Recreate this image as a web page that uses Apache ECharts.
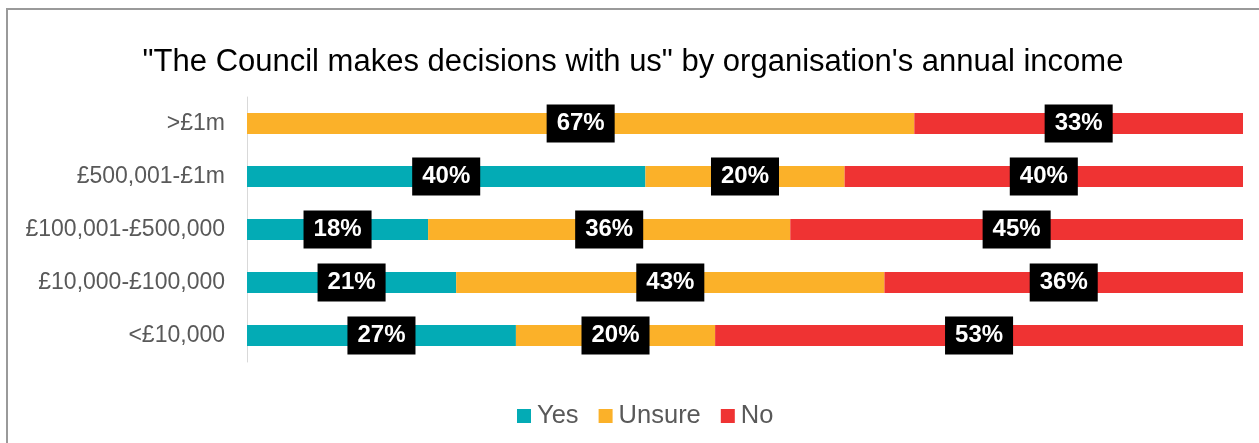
<!DOCTYPE html>
<html>
<head>
<meta charset="utf-8">
<title>Council decisions by annual income</title>
<script src="https://cdn.jsdelivr.net/npm/echarts@6/dist/echarts.min.js"></script>
<style>
  html, body { margin: 0; padding: 0; background: #fff; }
  #chart { width: 1259px; height: 443px; }
</style>
</head>
<body>
<div id="chart"></div>
<script>
// Income bands, top to bottom
const categories = ['>£1m', '£500,001-£1m', '£100,001-£500,000', '£10,000-£100,000', '<£10,000'];

// Share of respondents (%) per income band
const yesValues    = [0, 40, 18, 21, 27];
const unsureValues = [67, 20, 36, 43, 20];
const noValues     = [33, 40, 45, 36, 53];

const seriesNames  = ['Yes', 'Unsure', 'No'];
const seriesColors = ['#03ABB5', '#FBB129', '#EF3333'];

const FONT = '"Liberation Sans", Arial, sans-serif';

// Row totals, so each bar spans the full width (100% stacked)
const totals = categories.map((_, i) => yesValues[i] + unsureValues[i] + noValues[i]);

function toItems(values) {
  return values.map((v, i) => ({
    value: v / totals[i] * 100,
    raw: v,
    label: { show: v > 0 }
  }));
}

const seriesValues = [yesValues, unsureValues, noValues];

const chart = echarts.init(document.getElementById('chart'), null, { renderer: 'canvas' });

chart.setOption({
  animation: false,
  backgroundColor: '#fff',
  textStyle: { fontFamily: FONT },
  title: {
    text: '"The Council makes decisions with us" by organisation\'s annual income',
    left: 628,
    top: 42,
    textAlign: 'center',
    textStyle: { fontFamily: FONT, fontSize: 31, fontWeight: 'normal', color: '#000' }
  },
  legend: {
    data: seriesNames,
    left: 512,
    top: 398,
    icon: 'rect',
    itemWidth: 14,
    itemHeight: 14,
    itemGap: 20,
    textStyle: { fontFamily: FONT, fontSize: 25.5, color: '#595959', padding: [0, 0, 0, 1] }
  },
  grid: { left: 247, right: 16, top: 97, height: 265, containLabel: false },
  xAxis: { type: 'value', min: 0, max: 100, show: false },
  yAxis: {
    type: 'category',
    data: categories,
    inverse: true,
    axisLine: { show: true, lineStyle: { color: '#d9d9d9', width: 1 } },
    axisTick: { show: false },
    axisLabel: { fontFamily: FONT, fontSize: 23, color: '#595959', margin: 22 }
  },
  graphic: [{
    type: 'rect',
    silent: true,
    z: 100,
    shape: { x: 7, y: 9, width: 1262, height: 440 },
    style: { fill: 'none', stroke: '#9a9a9a', lineWidth: 2 }
  }],
  series: seriesNames.map((name, k) => ({
    name: name,
    type: 'bar',
    stack: 'total',
    barWidth: 21,
    itemStyle: { color: seriesColors[k] },
    label: {
      position: 'inside',
      formatter: p => p.data.raw + '%',
      fontFamily: FONT,
      fontSize: 24,
      fontWeight: 'bold',
      color: '#fff',
      backgroundColor: '#000',
      padding: [7, 10],
      lineHeight: 24
    },
    data: toItems(seriesValues[k])
  }))
});
</script>
</body>
</html>
